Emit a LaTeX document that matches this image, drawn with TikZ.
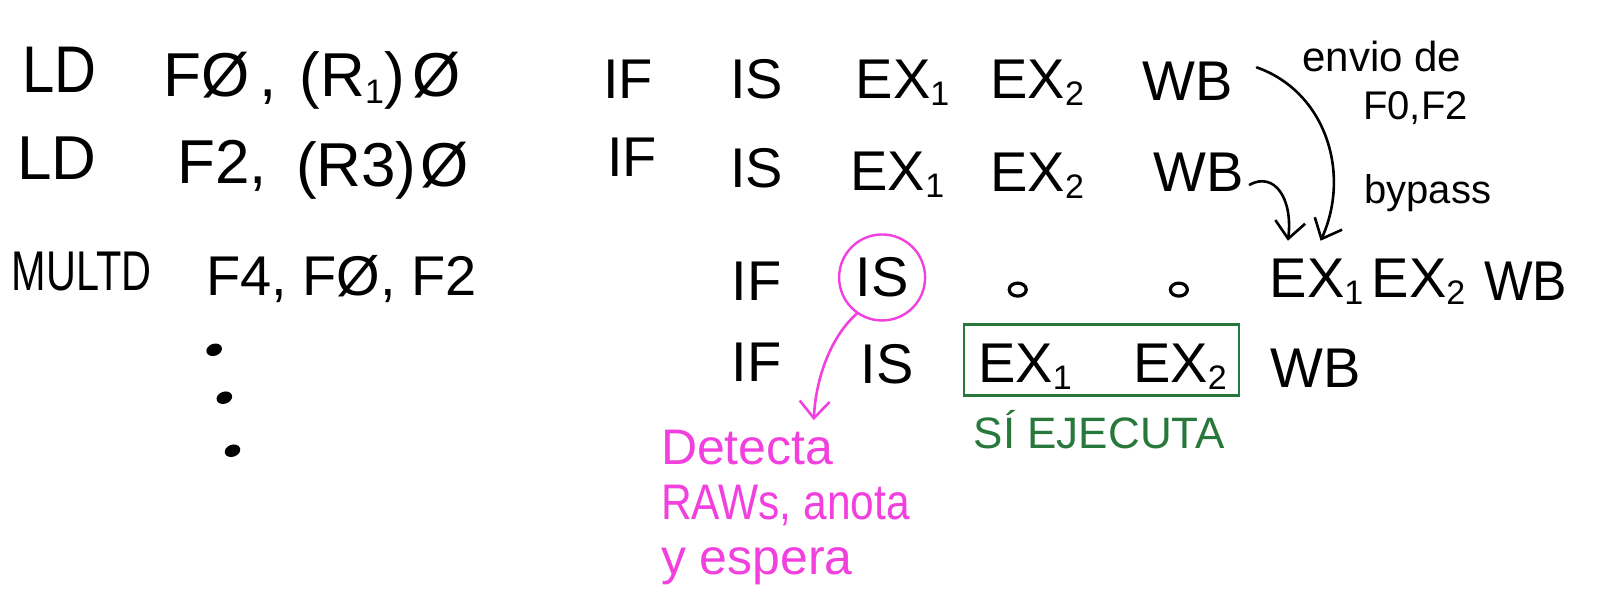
\documentclass[tikz,border=0pt]{standalone}
\usepackage{fontspec}
\setmainfont{Liberation Sans}
\usetikzlibrary{arrows.meta,shapes.geometric}
\definecolor{pinkink}{RGB}{242,64,222}
\definecolor{greenink}{RGB}{40,120,60}
\newcommand{\hwfont}{\fontsize{56}{60}\selectfont}
\newcommand{\lgfont}{\fontsize{62}{66}\selectfont}
\newcommand{\smfont}{\fontsize{40}{44}\selectfont}
\newcommand{\sbs}[1]{\raisebox{-7pt}{\fontsize{34}{34}\selectfont #1}}
\begin{document}
\begin{tikzpicture}[x=1.0198pt,y=-1.0198pt,
  big/.style={anchor=base, inner sep=2pt, font=\hwfont},
  large/.style={anchor=base, inner sep=2pt, font=\lgfont},
  note/.style={anchor=base, inner sep=2pt, font=\smfont},
  hand/.style={line width=2.6pt, line cap=round},
  harrow/.style={hand, -{Straight Barb[length=17pt,width=30pt]}},
  dotmark/.style={ellipse, fill, inner sep=0pt, minimum width=16pt, minimum height=12pt},
  zeromark/.style={ellipse, draw, line width=3.2pt, inner sep=0pt, minimum width=17pt, minimum height=13pt}]
\useasboundingbox (0,0) rectangle (1568,596);
% row 1
\node[large, font=\fontsize{66}{70}\selectfont] (ld1) at (58,91) {\scalebox{0.88}[1]{LD}};
\node[large] (op11) at (216,95) {FØ\,,};
\node[large] (op12) at (373,95) {(R\sbs{1})\hspace{8pt}Ø};
\node[big] (if1) at (616,97) {IF};
\node[big] (is1) at (742,97) {IS};
\node[big] (ex11) at (885,97) {EX\sbs{1}};
\node[big] (ex12) at (1017,97) {EX\sbs{2}};
\node[big] (wb1) at (1165,99) {WB};
% row 2
\node[large] (ld2) at (56,176) {LD};
\node[large] (op21) at (218,180) {F2,};
\node[large] (op22) at (375,183) {(R3)\hspace{4pt}Ø};
\node[big] (if2) at (620,173) {IF};
\node[big] (is2) at (742,184) {IS};
\node[big] (ex21) at (880,187) {EX\sbs{1}};
\node[big] (ex22) at (1017,188) {EX\sbs{2}};
\node[big] (wb2) at (1175,188) {WB};
% row 3
\node[big] (mul) at (80,285) {\scalebox{0.74}[1]{MULTD}};
\node[big] (op3) at (335,290) {F4, FØ, F2};
\node[big] (if3) at (742,295) {IF};
\node[big, circle, draw=pinkink, line width=2.4pt, minimum size=86pt] (is3) at (865,291) {IS};
\node[zeromark] (o1) at (998,284) {};
\node[zeromark] (o2) at (1156,284) {};
\node[big] (ex31) at (1291,292) {EX\sbs{1}};
\node[big] (ex32) at (1391,292) {EX\sbs{2}};
\node[big] (wb3) at (1496,295) {\scalebox{0.92}[1]{WB}};
% row 4
\node[big] (if4) at (742,374) {IF};
\node[big] (is4) at (870,376) {IS};
\node[big] (ex41) at (1005,375) {EX\sbs{1}};
\node[big] (ex42) at (1157,375) {EX\sbs{2}};
\node[big] (wb4) at (1290,380) {WB};
\node[draw=greenink, line width=2.4pt, minimum width=275pt, minimum height=71pt, inner sep=0pt] (box) at (1080,353) {};
\node[anchor=base, font=\fontsize{44}{48}\selectfont, text=greenink] (exec) at (1078,440) {SÍ EJECUTA};
% dots
\node[dotmark, rotate=20] (d1) at (210,343) {};
\node[dotmark, rotate=20] (d2) at (220,390) {};
\node[dotmark, rotate=20] (d3) at (228,442) {};
% notes
\node[anchor=north west, inner sep=0pt, align=left, font=\fontsize{50}{55}\selectfont, text=pinkink] (det) at (648,422) {Detecta\\\scalebox{0.85}[1]{RAWs, anota}\\y espera};
\node[note, font=\fontsize{42}{46}\selectfont] (envio) at (1355,70) {envio de};
\node[note] (fregs) at (1388,117) {F0,F2};
\node[note] (bypass) at (1400,200) {bypass};
% connectors
\draw[harrow] ([shift={(21,-14)}]wb1.east) .. controls (1300,90) and (1325,170) .. ([shift={(4,-16)}]ex31.north);
\draw[harrow] ([shift={(4,12)}]wb2.east) .. controls (1250,168) and (1268,195) .. ([shift={(20,-16)}]ex31.north west);
\draw[harrow, pinkink] (is3.235) .. controls (815,330) and (800,370) .. ([shift={(150,-10)}]det.north west);
\end{tikzpicture}
\end{document}
